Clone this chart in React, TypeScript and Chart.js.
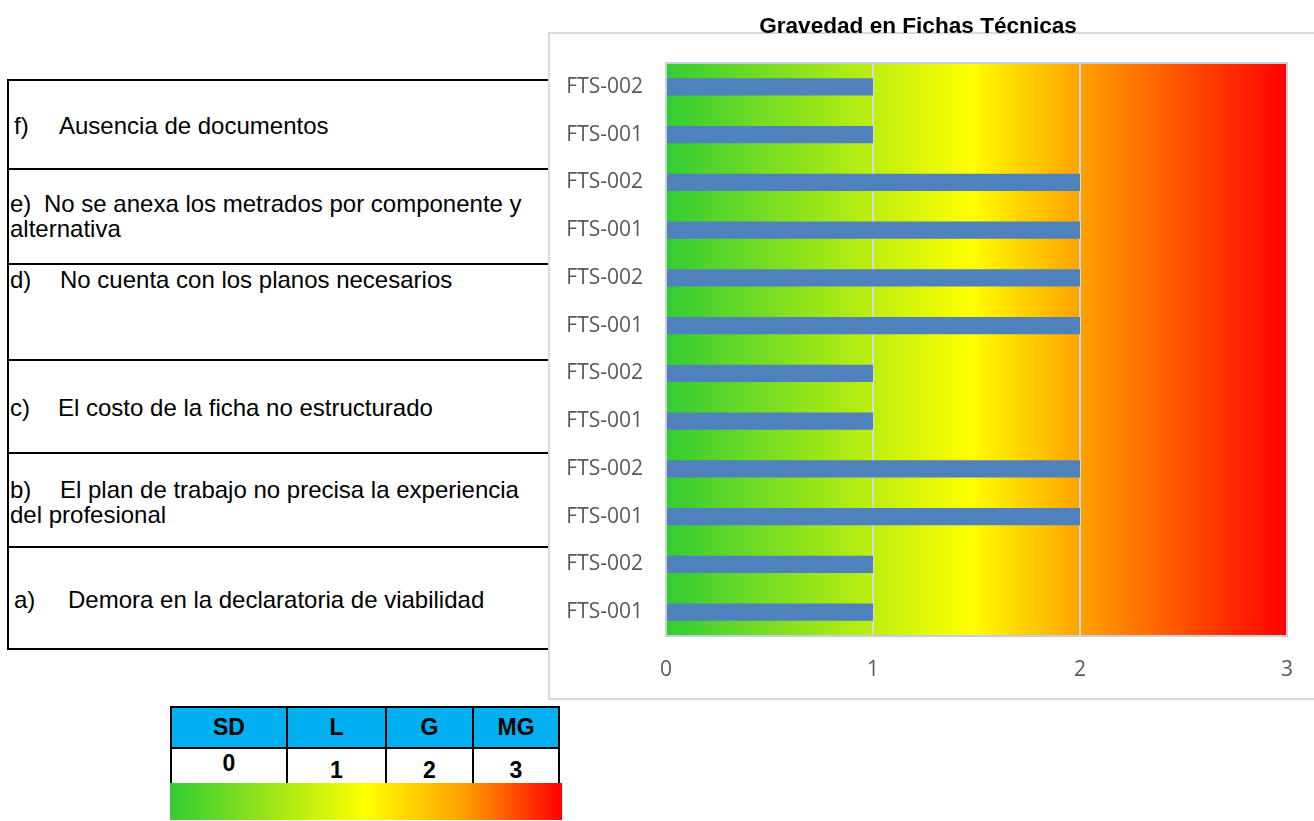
import React, { useEffect, useRef } from 'react';
import { Chart, registerables } from 'chart.js';

Chart.register(...registerables);

// ---------- data ----------
const chartTitle = 'Gravedad en Fichas Técnicas';
const fichaLabels = [
  'FTS-002', 'FTS-001',
  'FTS-002', 'FTS-001',
  'FTS-002', 'FTS-001',
  'FTS-002', 'FTS-001',
  'FTS-002', 'FTS-001',
  'FTS-002', 'FTS-001',
];
const gravedadValues = [1, 1, 2, 2, 2, 2, 1, 1, 2, 2, 1, 1];
const xTickValues = [0, 1, 2, 3];

const problemMarkers = ['f)', 'e)', 'd)', 'c)', 'b)', 'a)'];
const problemLines = [
  ['Ausencia de documentos'],
  ['No se anexa los metrados por componente y', 'alternativa'],
  ['No cuenta con los planos necesarios'],
  ['El costo de la ficha no estructurado'],
  ['El plan de trabajo no precisa la experiencia', 'del profesional'],
  ['Demora en la declaratoria de viabilidad'],
];

const legendCodes = ['SD', 'L', 'G', 'MG'];
const legendValues = ['0', '1', '2', '3'];

// ---------- layout (positions / styles) ----------
const rowLines = [80, 169, 264, 360, 453, 547, 649];
const textTops = [113, 191, 267, 395, 477, 587];
const markerLefts = [14, 10, 10, 10, 10, 14];
const textStarts = [59, 44, 60, 58, 60, 68];

const plotGradientPlugin = {
  id: 'plotGradient',
  beforeDraw(chart: any) {
    const { ctx, chartArea } = chart;
    const { left, right, top, bottom } = chartArea;
    const g = ctx.createLinearGradient(left, 0, right, 0);
    g.addColorStop(0, '#33CC33');
    g.addColorStop(0.49, '#FFFF00');
    g.addColorStop(0.67, '#FFA000');
    g.addColorStop(1, '#FF0000');
    ctx.save();
    ctx.fillStyle = g;
    ctx.fillRect(left, top, right - left, bottom - top);
    ctx.restore();
  },
  afterDraw(chart: any) {
    const { ctx, chartArea } = chart;
    const { left, right, top, bottom } = chartArea;
    ctx.save();
    ctx.strokeStyle = '#C5D0DE';
    ctx.lineWidth = 2;
    ctx.strokeRect(left, top, right - left, bottom - top);
    ctx.restore();
  },
};

export default function App() {
  const canvasRef = useRef<HTMLCanvasElement>(null);

  useEffect(() => {
    const canvas = canvasRef.current;
    if (!canvas) return;
    const tickFont = { family: '"Open Sans", "Noto Sans", sans-serif', size: 21 };
    const chart = new Chart(canvas, {
      type: 'bar',
      data: {
        labels: fichaLabels,
        datasets: [
          {
            data: gravedadValues,
            backgroundColor: '#4F81BD',
            borderWidth: 0,
            barPercentage: 0.36,
            categoryPercentage: 1,
          },
        ],
      },
      options: {
        indexAxis: 'y',
        responsive: false,
        animation: false,
        devicePixelRatio: 1,
        layout: { padding: { left: 0, right: 8, top: 0, bottom: 0 } },
        plugins: {
          legend: { display: false },
          tooltip: { enabled: false },
          title: {
            display: true,
            text: chartTitle,
            color: '#000000',
            font: { family: '"Liberation Sans", Arial, sans-serif', size: 22.6, weight: 'bold' },
            padding: { top: 13, bottom: 22.9 },
          },
        },
        scales: {
          x: {
            type: 'linear',
            min: 0,
            max: 3,
            afterBuildTicks: (s: any) => {
              s.ticks = xTickValues.map((v) => ({ value: v }));
            },
            afterFit: (s: any) => {
              s.height = 53;
              s.paddingLeft = 0;
              s.paddingRight = 0;
            },
            ticks: { color: '#595959', font: tickFont, padding: 21 },
            grid: { color: '#D9D9D9', lineWidth: 2, drawTicks: false },
            border: { display: false },
          },
          y: {
            type: 'category',
            afterFit: (s: any) => {
              s.width = 117;
            },
            ticks: { color: '#595959', font: tickFont, padding: 23 },
            grid: { display: false, drawTicks: false },
            border: { display: false },
          },
        },
      },
      plugins: [plotGradientPlugin],
    } as any);
    return () => chart.destroy();
  }, []);

  const colBounds = [170, 287, 386, 473, 560];

  return (
    <div
      style={{
        position: 'fixed',
        left: 0,
        top: 0,
        width: 1314,
        height: 821,
        background: '#ffffff',
        overflow: 'hidden',
        fontFamily: '"Liberation Sans", Arial, sans-serif',
        color: '#000',
      }}
    >
      {/* left table */}
      <div style={{ position: 'absolute', left: 7, top: 79, width: 2, height: 649 + 1 - 79, background: '#000' }} />
      {rowLines.map((y, i) => (
        <div key={'l' + i} style={{ position: 'absolute', left: 7, top: y - 1, width: 560, height: 2, background: '#000' }} />
      ))}
      {problemMarkers.map((m, i) => (
        <React.Fragment key={'t' + i}>
          <div
            style={{ position: 'absolute', left: markerLefts[i], top: textTops[i], fontSize: 24, lineHeight: '25px', whiteSpace: 'nowrap' }}
          >
            {m}
          </div>
          <div
            style={{ position: 'absolute', left: 10, top: textTops[i], fontSize: 24, lineHeight: '25px', whiteSpace: 'nowrap' }}
          >
            <span style={{ display: 'inline-block', width: textStarts[i] - 10 }} />
            {problemLines[i][0]}
            {problemLines[i].slice(1).map((ln, j) => (
              <div key={j}>{ln}</div>
            ))}
          </div>
        </React.Fragment>
      ))}

      {/* chart box */}
      <div
        style={{
          position: 'absolute',
          left: 548,
          top: 32,
          width: 800,
          height: 668,
          border: '2px solid #D9D9D9',
          boxSizing: 'border-box',
          background: '#fff',
        }}
      />
      <canvas
        ref={canvasRef}
        width={746}
        height={689}
        style={{ position: 'absolute', left: 549, top: 0, width: 746, height: 689 }}
      />

      {/* legend table */}
      <div
        style={{
          position: 'absolute',
          left: colBounds[0],
          top: 706,
          width: colBounds[4] - colBounds[0],
          height: 79,
          background: '#000',
          boxSizing: 'border-box',
          padding: 2,
          display: 'grid',
          gridTemplateColumns: '114px 97px 85px 84px',
          gridTemplateRows: '39px 34px',
          gap: 2,
        }}
      >
        {legendCodes.map((c, i) => (
          <div
            key={'h' + i}
            style={{
              background: '#00B0F0',
              fontWeight: 'bold',
              fontSize: 23,
              display: 'flex',
              alignItems: 'center',
              justifyContent: 'center',
            }}
          >
            {c}
          </div>
        ))}
        {legendValues.map((v, i) => (
          <div
            key={'v' + i}
            style={{
              background: '#fff',
              fontWeight: 'bold',
              fontSize: 23,
              lineHeight: '26px',
              textAlign: 'center',
              paddingTop: i === 0 ? 1 : 8,
              boxSizing: 'border-box',
            }}
          >
            {v}
          </div>
        ))}
      </div>
      <div
        style={{
          position: 'absolute',
          left: 170,
          top: 783,
          width: 392,
          height: 37,
          background: 'linear-gradient(to right, #33CC33 0%, #FFFF00 50%, #FFA000 75%, #FF0000 100%)',
        }}
      />
    </div>
  );
}
